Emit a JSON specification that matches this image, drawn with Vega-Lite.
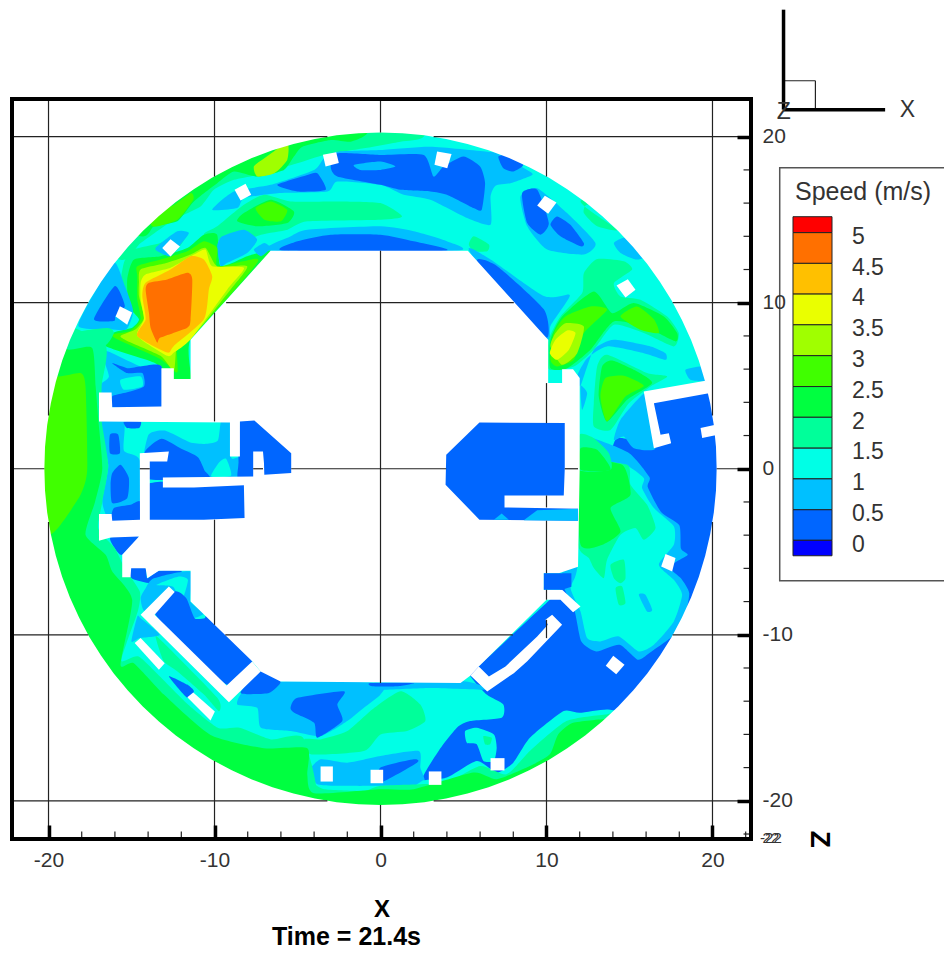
{"$schema":"https://vega.github.io/schema/vega-lite/v6.json","width":739,"height":740,"padding":{"left":12,"top":99,"right":193,"bottom":114},"autosize":"none","background":"white","config":{"font":"Liberation Sans","view":{"stroke":null},"axis":{"grid":false,"domain":false}},
"layer":[
{"data":{"values":[
{"p":0,"s":1.25,"pts":[[-22,-22],[22,-22],[22,22],[-22,22]]},
{"p":1,"s":0.25,"pts":[[14.16,1.74],[13,-3],[11,-7],[10.2,-7.89],[5.9,-11.9],[5.4,-12.45],[6.4,-13.6],[7.4,-14.2],[7.3,-15],[5.4,-15.2],[4.6,-15.6],[3.5,-17],[2.5,-18.8],[4,-19.5],[10,-19.5],[16,-20],[22,-21],[22,5],[19.88,4.65],[16.27,3.95],[16.47,1.34]]},
{"p":2,"s":0.75,"pts":[[14.9,1],[16.2,-0.5],[16.1,-1.1],[16.9,-2.6],[18,-3.4],[18.1,-4.8],[18.5,-5.2],[17.4,-5.9],[18.1,-6.6],[18.6,-7.5],[18.3,-9],[17.7,-10],[16.2,-11.1],[15.5,-11.5],[14.4,-10.6],[13,-11],[12.1,-10.4],[11.7,-8.6],[11,-7],[11,-5.5],[11.5,0],[12,2]]},
{"p":3,"s":1.25,"pts":[[11.8,0.3],[14.66,0.24],[15.86,-0.56],[15.76,-1.17],[16.47,-2.37],[17.67,-3.47],[17.67,-4.58],[16.77,-5.78],[17.67,-6.69],[18.17,-7.59],[17.67,-9.2],[16.47,-10.6],[15.56,-11],[14.36,-10.1],[13.25,-10.4],[12.45,-10.2],[12.05,-8.6],[11.45,-7.2],[11.85,-5.9]]},
{"p":4,"s":1.75,"pts":[[11.9,0.24],[14.86,0.24],[15.06,-0.96],[16.06,-2.17],[16.57,-3.57],[15.86,-4.28],[15.36,-3.57],[14.46,-3.98],[13.65,-5.48],[13.45,-6.59],[12.85,-5.98],[12.55,-5.38],[11.9,-4.58]]},
{"p":5,"s":2.25,"pts":[[11.95,0.24],[14.56,0.24],[15.06,-1.57],[13.86,-2.37],[14.46,-3.78],[13.45,-4.54],[12.05,-4.58]]},
{"p":6,"s":1.75,"pts":[[13.86,-5.78],[14.66,-5.48],[14.76,-6.59],[14.46,-6.89],[14.06,-6.59]]},
{"p":7,"s":1.75,"pts":[[14.16,-7.19],[14.56,-7.09],[14.76,-8.09],[14.36,-8.19]]},
{"p":8,"s":0.75,"pts":[[15.56,-7.59],[15.96,-7.59],[16.37,-8.49],[16.06,-8.6]]},
{"p":9,"s":1.75,"pts":[[11.99,2.04],[12.85,1.84],[13.76,0.94],[13.86,-0.06],[11.95,-0.06]]},
{"p":10,"s":2.25,"pts":[[12.05,1.24],[13.05,1.14],[13.86,-0.06],[12.05,-0.06]]},
{"p":11,"s":0.75,"pts":[[14.06,1.74],[14.46,2.95],[15.86,4.51],[16.17,3.75],[16.57,1.24],[15.26,1.24],[14.66,1.94]]},
{"p":12,"s":1.75,"pts":[[12.85,3.95],[13.05,6.16],[13.65,6.86],[16.06,5.76],[17.27,5.56],[16.27,4.96],[14.96,3.95],[13.86,2.34],[12.85,2.55]]},
{"p":13,"s":2.25,"pts":[[13.15,4.35],[13.35,6.16],[13.96,6.52],[15.46,5.86],[16.37,5.16],[14.86,4.15],[13.65,2.85]]},
{"p":14,"s":2.75,"pts":[[13.25,4.35],[13.55,5.46],[14.66,5.6],[15.86,5],[14.76,4.35],[13.65,2.85]]},
{"p":15,"s":0.75,"pts":[[8.43,16.4],[9.44,16.9],[11.24,15.4],[12.95,13.6],[12.25,12.9],[10.04,13.2],[8.84,14.6]]},
{"p":16,"s":0.25,"pts":[[8.53,16.6],[9.44,16.8],[10.14,14.8],[9.64,14.1],[8.84,14.8]]},
{"p":17,"s":0.25,"pts":[[10.24,14.7],[10.64,15.2],[11.44,14.7],[12.25,13.6],[12.05,13.4],[10.84,14]]},
{"p":18,"s":1.75,"pts":[[12.05,16.1],[14.26,14.4],[13.05,14.6],[12.25,15.4],[12.5,15.9],[14.5,15],[14.5,17]]},
{"p":19,"s":0.75,"pts":[[14.06,13.6],[14.86,13.9],[16.06,12.4],[17,13],[15.46,12.6],[14.46,13]]},
{"p":20,"s":1.75,"pts":[[5.32,13.5],[5.62,14],[6.53,13.5],[6.43,13.1],[5.62,13.1]]},
{"p":21,"s":0.75,"pts":[[5.32,13.2],[6.63,12.6],[9.84,10.4],[11.35,10.5],[11.24,10.1],[10.24,8.6],[10.1,7.77],[8,9]]},
{"p":22,"s":0.25,"pts":[[5.82,12.5],[7.03,12.2],[9.84,9.6],[10.04,7.9],[8,9]]},
{"p":23,"s":1.75,"pts":[[10.14,7.77],[10.84,9.17],[12.15,10.58],[12.25,11.78],[13.05,12.63],[14.66,12.5],[15.16,12],[14.06,11.18],[14.46,10.38],[15.66,10.18],[17.27,9.17],[17.97,8.17],[17.67,7.37],[15.86,8.17],[14.06,8.67],[12.85,7.17],[11.65,6.16],[10.14,6]]},
{"p":24,"s":2.25,"pts":[[10.24,7.77],[10.94,9.17],[12.85,10.68],[13.96,9.37],[15.26,9.98],[17.07,9.17],[17.87,8.17],[17.77,7.67],[16.06,8.47],[14.06,8.87],[12.65,7.17],[11.25,6.06],[10.24,6.06]]},
{"p":25,"s":2.75,"pts":[[10.44,8.17],[11.14,9.17],[12.65,9.77],[13.65,9.57],[12.25,8.17],[11.65,6.56],[10.64,6.16],[10.24,6.56]]},
{"p":26,"s":2.75,"pts":[[14.46,9.17],[15.46,9.77],[16.47,9],[16.77,8.17],[15.66,8.37]]},
{"p":27,"s":3.25,"pts":[[10.54,8.17],[11.14,8.77],[12.25,8.57],[11.85,6.96],[10.94,6.26],[10.24,7.37]]},
{"p":28,"s":3.75,"pts":[[10.54,7.77],[11.24,8.33],[11.75,8.17],[11.35,7.17],[10.64,6.56],[10.2,6.96]]},
{"p":29,"s":0.75,"pts":[[12.85,7.17],[14.06,7.77],[16.27,7.37],[17.17,6.96],[17.17,6.56],[15.86,6.96],[13.65,7.37],[12.45,6.66],[11.85,5.6],[12.05,5]]},
{"p":30,"s":0.75,"pts":[[12.05,5],[12.45,4.55],[12.15,3.55]]},
{"p":31,"s":0.75,"pts":[[18.37,5.96],[19.28,6.16],[20,6],[19.58,5.3],[18.67,5.36]]},
{"p":32,"s":1.75,"pts":[[-15.66,12.59],[-14.45,13.59],[-12.45,15],[-10.84,15.8],[-10.04,16.8],[-8.83,17.4],[-7.43,17.7],[-5.02,18.4],[-3.41,18.9],[-1,19.3],[1.2,19.7],[2.6,20],[3,22],[-12,22],[-20,15]]},
{"p":33,"s":2.25,"pts":[[-14.35,13.99],[-13.65,14.6],[-12.24,14.9],[-11.24,16.1],[-9.84,17.2],[-8.83,17.9],[-7.43,17.6],[-5.82,18],[-5.22,18.8],[-4.7,19.4],[-3,19.8],[-1.8,19.7],[-0.8,20.2],[-0.5,22],[-12,22],[-18,15]]},
{"p":34,"s":2.75,"pts":[[-13.75,14.6],[-12.24,15],[-11.28,16.2],[-11.44,16.6],[-12.65,15.8],[-14,16]]},
{"p":35,"s":3.25,"pts":[[-7.63,18.2],[-7,18.7],[-5.62,19.6],[-5.62,18.6],[-6.4,17.8],[-7.43,17.6]]},
{"p":36,"s":0.75,"pts":[[-10.14,15.6],[-8.83,16.7],[-6.62,17.1],[-4,18],[-3.41,18.7],[-2.6,19.1],[0,19.2],[3,19.4],[6.43,19.1],[7,19],[8.83,18],[9.14,17.7],[7.83,17.2],[6.93,17.05],[6.63,16.4],[6.63,14.7],[5.22,15.1],[3,16.2],[1.4,16.5],[0,17.1],[-2.6,17.3],[-3.2,16.7],[-6.2,16.6],[-8.2,16.3],[-8.63,15.7]]},
{"p":37,"s":0.25,"pts":[[-6.22,17.1],[-4.4,17.7],[-3.8,17.8],[-3.3,16.8],[-5,16.7]]},
{"p":38,"s":0.25,"pts":[[-3,18.2],[-2.6,19],[0,18.9],[2.6,18.9],[3.2,17.6],[3.8,18.2],[5,18.8],[6,18.2],[6.3,17.2],[6.1,15.6],[5.6,15.7],[4,16.5],[3,16.7],[1.2,16.8],[0,17.1],[-2.6,17.6]]},
{"p":39,"s":0.75,"pts":[[-1.6,18.3],[0,18.5],[0.9,18.2],[0,18],[-1.2,18]]},
{"p":40,"s":0.25,"pts":[[7.1,18.8],[7.7,18.9],[8.6,18.3],[8,17.9],[7.4,18.1]]},
{"p":41,"s":1.75,"pts":[[-10.64,14.1],[-9.84,14.6],[-8.23,15.9],[-7,16.5],[-5.42,16.1],[-2.6,16.1],[0,16],[1.3,15.2],[0,15],[-4.4,14.9],[-5.6,14.4],[-7.2,14.1],[-9,13.5]]},
{"p":42,"s":2.25,"pts":[[-8.23,15.4],[-6.62,16.2],[-5.22,15.5],[-5.62,14.8],[-7.43,14.6],[-8.63,14.9]]},
{"p":43,"s":2.75,"pts":[[-7.53,15.7],[-6.62,16.1],[-5.62,15.6],[-6,14.9],[-7,15]]},
{"p":44,"s":0.75,"pts":[[-6.62,13.13],[-5.4,14],[-4.4,14.4],[0,14.6],[2,14.3],[4,13.7],[4.6,13.13]]},
{"p":45,"s":0.25,"pts":[[-5.8,13.13],[-5,13.7],[-3,14.1],[0,14.1],[2,13.7],[3.9,13.13]]},
{"p":46,"s":1.75,"pts":[[-15.46,12.4],[-14.85,13.2],[-13.25,13.6],[-11.64,14.1],[-15.2,9.2],[-15.8,10]]},
{"p":47,"s":2.25,"pts":[[-15.26,11.4],[-14.85,12.6],[-13.25,12.8],[-11.64,13.3],[-10.64,14.1],[-9.84,14.1],[-9.63,12.2],[-8.03,12.8],[-6.62,13.1],[-8.23,11.2],[-11.44,7.8],[-11.44,5.4],[-12.45,5.4],[-13.65,6.4],[-16.56,7.4],[-16.06,8.2],[-14.96,8.5],[-14.55,9],[-15.16,9.8]]},
{"p":48,"s":0.75,"pts":[[-9.54,14],[-8.23,14.4],[-7.43,13.8],[-8.03,13],[-9.23,12.4],[-9.63,12.2],[-9.84,13.4]]},
{"p":49,"s":0.75,"pts":[[-7.63,13.2],[-7,13.6],[-6.62,13.3],[-7.2,12.8]]},
{"p":50,"s":2.75,"pts":[[-14.65,11.6],[-14.65,12.2],[-13.25,12.6],[-11.64,13.1],[-10.64,13.7],[-9.84,13.3],[-9.84,12.2],[-8.23,12.5],[-7.43,12.4],[-11.44,7.8],[-12.25,7.4],[-12.25,5.8],[-13.25,6.6],[-15.86,7.8],[-16.16,8.1],[-15.06,8.3],[-14.45,9],[-14.65,10.2]]},
{"p":51,"s":3.25,"pts":[[-14.55,11.2],[-14.45,12],[-12.85,12.4],[-11.44,12.9],[-10.54,13.3],[-9.84,12.2],[-8.03,12.2],[-9.03,10.8],[-11.44,7.8],[-12.25,7.6],[-12.45,5.9],[-13.25,6.8],[-15.26,7.7],[-15.66,8],[-14.75,8.4],[-14.25,9.1],[-14.55,10.4]]},
{"p":52,"s":3.75,"pts":[[-14.45,11.2],[-14.15,11.7],[-12.65,12.1],[-11.24,12.9],[-10.54,13.2],[-10.14,12.2],[-8.23,12.1],[-9.23,10.8],[-11.44,7.8],[-12.45,7],[-12.85,6.8],[-14.65,8],[-14.25,9],[-14.45,10.2]]},
{"p":53,"s":4.25,"pts":[[-14.15,11.2],[-12.65,12],[-11.44,12.8],[-10.64,12.6],[-10.14,11.6],[-10.34,10.8],[-10.64,9],[-12.45,7.4],[-12.85,7],[-14.65,8],[-14.15,9],[-14.35,10.4]]},
{"p":54,"s":4.75,"pts":[[-14.15,10.8],[-13.95,11.2],[-12.85,11.4],[-11.64,11.8],[-11.34,11.4],[-11.44,9],[-11.64,8.5],[-13.25,7.9],[-13.45,7.6],[-13.85,8.5],[-13.95,9.4]]},
{"p":55,"s":0.75,"pts":[[-13.55,13.3],[-12.25,14.3],[-11.54,14.2],[-12.05,13.5],[-12.65,12.8],[-13.25,13]]},
{"p":56,"s":0.75,"pts":[[-18.2,8.6],[-17,11],[-16,12.4],[-15.4,11],[-14.9,9.5],[-15.3,8.4],[-16.3,8.4]]},
{"p":57,"s":0.25,"pts":[[-17.26,9],[-16,11],[-15.4,9.8],[-15.96,9.2],[-16.06,8.9]]},
{"p":58,"s":1.75,"pts":[[-18.87,7.2],[-18.47,8.17],[-16.46,8.47],[-16.06,8.17],[-16.66,7.37]]},
{"p":59,"s":0.75,"pts":[[-16.76,7.16],[-14.45,6.16],[-13.2,6.16],[-13.2,3.7],[-16.16,3.7],[-16.96,4.96],[-16.36,5.56]]},
{"p":60,"s":0.25,"pts":[[-16.16,6.36],[-15.26,6.06],[-14.45,6.16],[-13.2,6.16],[-13.2,3.7],[-16.16,3.7],[-16.16,4.36],[-15.46,4.56],[-14.25,4.96],[-14.35,5.76],[-15.26,5.76]]},
{"p":61,"s":1.25,"pts":[[-15.66,5.36],[-14.45,5.56],[-14.35,4.96],[-15.46,4.76]]},
{"p":62,"s":0.75,"pts":[[-16.96,2.85],[-15.46,2.85],[-15.46,1.1],[-14.5,0.5],[-14.5,-3.07],[-16.26,-3.17],[-16.76,-1.97],[-16.4,0.24]]},
{"p":63,"s":0.25,"pts":[[-16.16,-0.26],[-15.66,0.24],[-15.16,-0.56],[-15.26,-1.77],[-16.16,-2.07],[-16.26,-0.96]]},
{"p":64,"s":0.25,"pts":[[-16.16,-3.2],[-16.06,-2.37],[-15.06,-2.17],[-14.5,-1.97],[-14.5,-3.2]]},
{"p":65,"s":0.25,"pts":[[-16.3,2.05],[-15.8,2.05],[-15.7,0.94],[-16.3,0.94]]},
{"p":66,"s":0.25,"pts":[[-15.46,2.85],[-14.45,2.85],[-14.55,2.45],[-15.26,2.45]]},
{"p":67,"s":0.75,"pts":[[-14,2],[-13,2.3],[-11.5,1.6],[-10.5,1.5],[-9.8,1.7],[-9.6,2.85],[-9,2.85],[-9,0.7],[-8.47,0.7],[-7.6,0.6],[-7.67,-0.46],[-14,-0.46]]},
{"p":68,"s":0.25,"pts":[[-14.2,1],[-13.2,1.8],[-12,1.2],[-11,0.7],[-10.6,-0.1],[-10.4,-0.6],[-14.2,-0.6]]},
{"p":69,"s":0.25,"pts":[[-8.4,0.8],[-7.6,0.8],[-7.5,-0.6],[-8.6,-0.6]]},
{"p":70,"s":1.25,"pts":[[-10.2,-0.46],[-9.7,0.4],[-9.3,0.6],[-9,-0.4]]},
{"p":71,"s":0.25,"pts":[[-14,-0.9],[-8,-0.9],[-8,-3.2],[-14,-3.2]]},
{"p":72,"s":0.25,"pts":[[-8.47,2.95],[-7.6,2.95],[-5.3,0.9],[-5.3,-0.3],[-7,-0.46],[-8.47,-0.46]]},
{"p":73,"s":0.25,"pts":[[-16.26,-4.14],[-14.55,-4.08],[-15.56,-5.18],[-16,-4.8]]},
{"p":74,"s":0.25,"pts":[[-15.06,-6],[-14.15,-6],[-14.05,-6.6],[-13.35,-6.15],[-12,-6.15],[-12.3,-6.5],[-13.8,-6.9],[-15,-6.6]]},
{"p":75,"s":0.75,"pts":[[-14.45,-7.8],[-14.15,-7.2],[-13.65,-6.6],[-11.44,-6.2],[-11.44,-8],[-10.64,-8.7],[-11.44,-9],[-12,-8],[-12.4,-7.43],[-14.15,-8.6]]},
{"p":76,"s":1.25,"pts":[[-13.5,-7],[-12.2,-6.5],[-11.6,-6.7],[-12,-8],[-12.5,-7.1]]},
{"p":77,"s":0.25,"pts":[[-13.55,-8.8],[-12.4,-7.4],[-11.7,-7.8],[-11.2,-9],[-10.6,-9],[-10.3,-8.9],[-7.73,-11.6],[-9.27,-13]]},
{"p":78,"s":0.75,"pts":[[-14.65,-8.9],[-14.45,-9],[-13.3,-10],[-14.5,-10.2],[-15,-10.4]]},
{"p":79,"s":0.75,"pts":[[-8.23,-13.4],[-6.02,-12.81],[0,-12.9],[0,-13.6],[-1,-14.4],[-2,-15.2],[-3.6,-16.1],[-5.4,-15.8],[-7.2,-15.6],[-7.43,-14.4],[-8.63,-14.2]]},
{"p":80,"s":0.25,"pts":[[-8.43,-13.5],[-7.22,-12.2],[-6.02,-12.81],[-6.72,-13.5]]},
{"p":81,"s":0.25,"pts":[[-5.42,-14.4],[-5,-13.8],[-2.2,-13.4],[-2.6,-14.2],[-2.3,-15.2],[-3.8,-16.2],[-4,-15.3],[-5.2,-14.7]]},
{"p":82,"s":0.75,"pts":[[0,-12.9],[5,-12.8],[6.5,-13.3],[3,-13.2],[0,-13.3]]},
{"p":83,"s":0.25,"pts":[[-0.6,-12.9],[2,-12.9],[1,-13.1],[-0.5,-13.1]]},
{"p":84,"s":1.25,"pts":[[5.1,-15.8],[5.8,-15.6],[6.83,-16],[7,-16.8],[6.83,-17.6],[6.2,-17.6],[5.8,-16.6],[5.2,-16.5]]},
{"p":85,"s":1.75,"pts":[[6.2,-16.1],[6.7,-16.2],[6.6,-16.6],[6.3,-16.6]]},
{"p":86,"s":1.75,"pts":[[-4.6,-16.3],[-3.6,-16.3],[-2,-15.8],[-0.5,-14.5],[1.2,-13.4],[2.4,-14.2],[2.7,-15.2],[1.6,-15.8],[0,-16],[-1,-17],[-4.2,-17.2]]},
{"p":87,"s":0.75,"pts":[[-4.3,-18.2],[-3.6,-17.5],[-2,-17.7],[0,-17.3],[2.3,-17],[2.4,-18],[2.6,-19],[0,-19.1],[-2.4,-19.1],[-3.8,-19]]},
{"p":88,"s":0.25,"pts":[[0,-18],[2,-17.5],[2.2,-17.7],[0,-18.9]]},
{"p":89,"s":1.25,"pts":[[2.5,-18.8],[4,-18.6],[5.8,-17.6],[7,-18.3],[8,-17.7],[9,-16.2],[11,-14.6],[12,-14.7],[13.7,-14.5],[15,-15],[15,-18],[2.5,-19.5]]},
{"p":90,"s":1.75,"pts":[[-4.3,-19],[-3.4,-19.3],[-1,-19.4],[0,-19.1],[2.4,-19],[4,-18.9],[6,-17.9],[7.6,-18.4],[9,-17],[11.2,-15.2],[13.6,-14.8],[14.2,-14.9],[15,-18],[0,-22],[-5,-22]]},
{"p":91,"s":1.75,"pts":[[-22,7.6],[-16.7,7.6],[-16.8,5],[-16.8,2.9],[-16.4,0.2],[-16.76,-2],[-17,-3.6],[-16,-4.8],[-15.4,-6],[-14.5,-7.4],[-14.6,-8.5],[-15.3,-10.5],[-15.6,-11.6],[-14.6,-11.3],[-13.3,-12.5],[-11.6,-14.2],[-9.8,-15.6],[-8.5,-15.6],[-6.6,-16.3],[-4.6,-16.3],[-4.6,-22],[-22,-22]]},
{"p":92,"s":1.75,"pts":[[-13.55,-10.1],[-12.95,-10.6],[-9.83,-13.8],[-9.73,-14.6],[-10.64,-13.6],[-12.25,-12.2],[-13.05,-11.6]]},
{"p":93,"s":0.25,"pts":[[-12.75,-12.5],[-11.64,-13],[-11.24,-13.4],[-11.64,-13.8]]},
{"p":94,"s":2.25,"pts":[[-22,7.2],[-18.77,7.17],[-17.37,7.27],[-17.16,4.96],[-17,2.95],[-16.76,0],[-17.2,-2],[-17.77,-3.98],[-16.56,-5.18],[-16.16,-6.19],[-14.96,-7.89],[-15.66,-11.81],[-14.86,-11.71],[-13.05,-13.6],[-10.24,-16.03],[-7.02,-16.83],[-4.41,-16.83],[-4.41,-18.43],[-4,-19.54],[0,-19.3],[2,-19.3],[5.6,-18.3],[7,-18.7],[9,-17.9],[10.2,-17.2],[10.7,-16],[11.6,-15.3],[13.65,-15.05],[14.5,-15],[15,-20],[0,-22],[-22,-22]]},
{"p":95,"s":2.75,"pts":[[-19.37,5.56],[-18.07,5.76],[-17.77,4.96],[-17.67,-0.06],[-18.07,-1.57],[-19.27,-3.37],[-20,-4],[-22,-4],[-22,5.6]]}
]},
"transform":[{"flatten":["pts"]},{"window":[{"op":"row_number","as":"i"}]}],
"mark":{"type":"line","interpolate":"cardinal-closed","tension":0.4,"stroke":null,"clip":true},
"encoding":{
"x":{"field":"pts[0]","type":"quantitative","scale":{"domain":[-22.2,22.32]},"title":"X","axis":{"orient":"bottom","values":[-20,-10,0,10,20],"labelExpr":"''+datum.value","zindex":1,"tickColor":"#000","tickWidth":3.5,"tickSize":-14,"labelFontSize":21,"labelColor":"#333","labelPadding":24,"titleFontSize":24,"titleFontWeight":"bold","titleColor":"#000","titlePadding":27}},
"y":{"field":"pts[1]","type":"quantitative","scale":{"domain":[-22.3,22.27]},"title":null,"axis":{"orient":"right","values":[-20,-10,0,10,20],"labelExpr":"''+datum.value","zindex":1,"tickColor":"#000","tickWidth":3.5,"tickSize":-14,"labelFontSize":21,"labelColor":"#333","labelPadding":25}},
"detail":{"field":"p"},
"order":{"field":"i","type":"quantitative"},
"fill":{"field":"s","type":"quantitative","legend":null,"scale":{"type":"threshold","domain":[0,0.5,1,1.5,2,2.5,3,3.5,4,4.5,5],"range":["#0000ff","#0066ff","#00c0ff","#00ffe6","#00ff9a","#00ff40","#40ff00","#a0ff00","#eaff00","#ffc000","#ff7000","#ff0000"]}}
}},
{"data":{"values":[
{"p":100,"n":"mask","pts":[[-22.2,22.27],[22.32,22.27],[22.32,-22.3],[-22.2,-22.3],[-22.2,0],[-20.25,0],[-20.21,-1.32],[-20.08,-2.64],[-19.86,-3.95],[-19.56,-5.24],[-19.18,-6.51],[-18.71,-7.75],[-18.16,-8.96],[-17.54,-10.13],[-16.84,-11.25],[-16.07,-12.33],[-15.22,-13.35],[-14.32,-14.32],[-13.35,-15.22],[-12.33,-16.07],[-11.25,-16.84],[-10.13,-17.54],[-8.96,-18.16],[-7.75,-18.71],[-6.51,-19.18],[-5.24,-19.56],[-3.95,-19.86],[-2.64,-20.08],[-1.32,-20.21],[0,-20.25],[1.32,-20.21],[2.64,-20.08],[3.95,-19.86],[5.24,-19.56],[6.51,-19.18],[7.75,-18.71],[8.96,-18.16],[10.13,-17.54],[11.25,-16.84],[12.33,-16.07],[13.35,-15.22],[14.32,-14.32],[15.22,-13.35],[16.07,-12.33],[16.84,-11.25],[17.54,-10.13],[18.16,-8.96],[18.71,-7.75],[19.18,-6.51],[19.56,-5.24],[19.86,-3.95],[20.08,-2.64],[20.21,-1.32],[20.25,0],[20.21,1.32],[20.08,2.64],[19.86,3.95],[19.56,5.24],[19.18,6.51],[18.71,7.75],[18.16,8.96],[17.54,10.13],[16.84,11.25],[16.07,12.33],[15.22,13.35],[14.32,14.32],[13.35,15.22],[12.33,16.07],[11.25,16.84],[10.13,17.54],[8.96,18.16],[7.75,18.71],[6.51,19.18],[5.24,19.56],[3.95,19.86],[2.64,20.08],[1.32,20.21],[0,20.25],[-1.32,20.21],[-2.64,20.08],[-3.95,19.86],[-5.24,19.56],[-6.51,19.18],[-7.75,18.71],[-8.96,18.16],[-10.13,17.54],[-11.25,16.84],[-12.33,16.07],[-13.35,15.22],[-14.32,14.32],[-15.22,13.35],[-16.07,12.33],[-16.84,11.25],[-17.54,10.13],[-18.16,8.96],[-18.71,7.75],[-19.18,6.51],[-19.56,5.24],[-19.86,3.95],[-20.08,2.64],[-20.21,1.32],[-20.25,0],[-22.2,0]]},
{"p":101,"n":"void","pts":[[-6.62,13.13],[5.26,13.13],[10.1,7.77],[10.1,5.16],[10.94,5.16],[10.94,6],[11.6,6],[12,5.46],[12,0],[11.9,-5.9],[10.74,-6.3],[9.84,-6.29],[9.84,-7.29],[10.94,-7.29],[12.05,-8.3],[11.6,-8.64],[10.84,-7.89],[10,-7.89],[5.92,-11.91],[5.42,-12.45],[4.82,-12.91],[-6.02,-12.81],[-7.22,-12.21],[-7.73,-11.6],[-11.44,-8],[-11.44,-6.15],[-13.35,-6.15],[-14.05,-6.59],[-14.15,-6],[-15.02,-6],[-15.06,-6.53],[-15.56,-6.53],[-15.56,-5.18],[-14.55,-4.08],[-16.26,-4.14],[-16.96,-4.34],[-16.96,-2.73],[-16.2,-2.73],[-16.16,-3.13],[-14.49,-3.07],[-14.5,0.94],[-12.75,1.04],[-12.85,0.44],[-13.9,0.44],[-13.9,-3.07],[-10.64,-3.07],[-8.19,-2.97],[-8.23,-1],[-11.24,-1.13],[-13.11,-1.13],[-13.11,-0.52],[-7.67,-0.46],[-7.67,1.04],[-7.08,1.04],[-7.02,0.34],[-7,-0.36],[-5.38,-0.26],[-5.38,0.94],[-7.6,2.91],[-8.47,2.85],[-8.47,0.74],[-9.07,0.74],[-9.07,2.79],[-16.96,2.85],[-16.96,4.6],[-16.2,4.6],[-16.16,3.71],[-13.2,3.75],[-13.2,6.06],[-12.45,6.06],[-12.45,5.4],[-11.44,5.4],[-11.44,7.77]]},
{"p":102,"n":"pillar","pts":[[-13.15,13.29],[-12.65,13.83],[-12.08,13.39],[-12.65,12.79]]},
{"p":103,"n":"pillar","pts":[[-15.96,9.17],[-15.7,9.78],[-14.96,9.41],[-15.26,8.67]]},
{"p":104,"n":"pillar","pts":[[-8.79,16.8],[-8.13,17.16],[-7.79,16.5],[-8.43,16.16]]},
{"p":105,"n":"pillar","pts":[[-3.47,18.91],[-2.67,19.07],[-2.51,18.41],[-3.31,18.21]]},
{"p":106,"n":"pillar","pts":[[3.41,19.11],[4.28,18.95],[4.02,18.1],[3.25,18.31]]},
{"p":107,"n":"pillar","pts":[[9.44,15.86],[9.9,16.44],[10.6,16.04],[10.1,15.36]]},
{"p":108,"n":"pillar","pts":[[14.22,11.04],[14.9,11.42],[15.36,10.78],[14.76,10.32]]},
{"p":109,"n":"pillar","pts":[[19.28,2.45],[20.18,2.65],[20.32,2.05],[19.38,1.85]]},
{"p":110,"n":"pillar","pts":[[17.17,-5.14],[17.77,-5.38],[17.57,-6.19],[16.91,-5.88]]},
{"p":111,"n":"pillar","pts":[[14.02,-11.27],[14.7,-11.81],[14.2,-12.37],[13.57,-11.87]]},
{"p":112,"n":"pillar","pts":[[6.63,-17.43],[7.47,-17.43],[7.47,-18.17],[6.63,-18.17]]},
{"p":113,"n":"pillar","pts":[[2.91,-18.23],[3.67,-18.23],[3.67,-19.04],[2.91,-19.04]]},
{"p":114,"n":"pillar","pts":[[-0.6,-18.13],[0.16,-18.13],[0.16,-18.94],[-0.6,-18.94]]},
{"p":115,"n":"pillar","pts":[[-3.61,-17.93],[-2.87,-17.93],[-2.87,-18.84],[-3.61,-18.84]]},
{"p":116,"n":"wall","pts":[[-14.81,-10.5],[-14.45,-10.2],[-13,-11.71],[-13.35,-12.11]]},
{"p":117,"n":"wall","pts":[[-11.64,-13.76],[-11.28,-13.47],[-9.98,-14.62],[-10.24,-15.16]]},
{"p":118,"n":"wall","pts":[[-14.45,-8.8],[-12.75,-7.09],[-12.4,-7.43],[-13.61,-8.8],[-9.27,-13.05],[-7.73,-11.61],[-7.22,-12.21],[-9.13,-14.06]]},
{"p":119,"n":"wall","pts":[[5.42,-12.45],[5.92,-11.91],[6.53,-12.51],[7.53,-11.91],[9.44,-10.1],[10.08,-9.4],[9.94,-9.1],[10.34,-8.8],[10.94,-9.4],[8.84,-11.6],[8.03,-12.31],[6.43,-13.41]]},
{"p":120,"n":"wall","pts":[[15.86,4.65],[19.58,5.3],[19.78,4.55],[16.47,3.95],[16.87,2.05],[17.37,2.14],[17.51,1.54],[16.47,1.24]]}
]},
"transform":[{"flatten":["pts"]},{"window":[{"op":"row_number","as":"i"}]}],
"mark":{"type":"line","fill":"white","stroke":null},
"encoding":{"x":{"field":"pts[0]","type":"quantitative","scale":{"domain":[-22.2,22.32]},"title":"X"},"y":{"field":"pts[1]","type":"quantitative","scale":{"domain":[-22.3,22.27]},"title":null,"axis":{"orient":"right"}},"detail":{"field":"p"},"order":{"field":"i","type":"quantitative"}}},
{"data":{"values":[
{"p":200,"s":0.25,"pts":[[5.96,2.79],[11.1,2.75],[11.1,0],[11.04,-1.61],[7.47,-1.61],[7.47,-2.33],[11.9,-2.41],[11.9,-3.13],[5.96,-3.07],[3.92,-0.96],[3.96,0.84]]},
{"p":201,"s":0.75,"pts":[[8.63,-3.1],[9.44,-2.5],[11.9,-2.41],[11.9,-3.13]]},
{"p":202,"s":0.75,"pts":[[6.83,-3.07],[7.3,-2.7],[7.73,-3.07]]},
{"p":203,"s":0.25,"pts":[[9.84,-6.29],[11.5,-6.3],[11.5,-7.1],[10.94,-7.29],[9.84,-7.29]]}
]},
"transform":[{"flatten":["pts"]},{"window":[{"op":"row_number","as":"i"}]}],
"mark":{"type":"line","stroke":null},
"encoding":{"x":{"field":"pts[0]","type":"quantitative","scale":{"domain":[-22.2,22.32]},"title":"X"},"y":{"field":"pts[1]","type":"quantitative","scale":{"domain":[-22.3,22.27]},"title":null,"axis":{"orient":"right"}},"detail":{"field":"p"},"order":{"field":"i","type":"quantitative"},"fill":{"field":"s","type":"quantitative","legend":null,"scale":{"type":"threshold","domain":[0,0.5,1,1.5,2,2.5,3,3.5,4,4.5,5],"range":["#0000ff","#0066ff","#00c0ff","#00ffe6","#00ff9a","#00ff40","#40ff00","#a0ff00","#eaff00","#ffc000","#ff7000","#ff0000"]}}}},
{"data":{"values":[
{"x":-20,"x2":-20,"y":3.2,"y2":22.27},{"x":-20,"x2":-20,"y":-3.2,"y2":-22.3},{"x":20,"x2":20,"y":3.2,"y2":22.27},{"x":20,"x2":20,"y":-3.2,"y2":-22.3},
{"x":-10,"x2":-10,"y":17.6,"y2":22.27},{"x":-10,"x2":-10,"y":-17.6,"y2":-22.3},{"x":-10,"x2":-10,"y":2.85,"y2":9.4},{"x":-10,"x2":-10,"y":-9.4,"y2":-3.07},
{"x":0,"x2":0,"y":20.25,"y2":22.27},{"x":0,"x2":0,"y":-20.25,"y2":-22.3},{"x":0,"x2":0,"y":-12.9,"y2":13.13},
{"x":10,"x2":10,"y":17.6,"y2":22.27},{"x":10,"x2":10,"y":-17.6,"y2":-22.3},{"x":10,"x2":10,"y":2.75,"y2":5.16},{"x":10,"x2":10,"y":-6.29,"y2":-3.13},{"x":10,"x2":10,"y":-7.89,"y2":-7.29},{"x":10,"x2":10,"y":-2.33,"y2":-1.61},{"x":10,"x2":10,"y":-10.2,"y2":-9.1},
{"y":20,"y2":20,"x":3.2,"x2":22.32},{"y":20,"y2":20,"x":-3.2,"x2":-22.2},{"y":-20,"y2":-20,"x":3.2,"x2":22.32},{"y":-20,"y2":-20,"x":-3.2,"x2":-22.2},
{"y":10,"y2":10,"x":17.6,"x2":22.32},{"y":10,"y2":10,"x":-17.6,"x2":-22.2},{"y":10,"y2":10,"x":-9.3,"x2":8.03},
{"y":-10,"y2":-10,"x":17.6,"x2":22.32},{"y":-10,"y2":-10,"x":-17.6,"x2":-22.2},{"y":-10,"y2":-10,"x":-9.35,"x2":7.97},
{"y":0,"y2":0,"x":20.25,"x2":22.32},{"y":0,"y2":0,"x":-20.25,"x2":-22.2},{"y":0,"y2":0,"x":-5.38,"x2":3.96},{"y":0,"y2":0,"x":-7.67,"x2":-7.08},{"y":0,"y2":0,"x":-14.5,"x2":-13.9},{"y":0,"y2":0,"x":11.1,"x2":11.9},
{"x":24.28,"x2":26.2,"y":23.37,"y2":23.37},{"x":26.2,"x2":26.2,"y":21.63,"y2":23.37},
{"x":-18,"x2":-18,"y":-22.3,"y2":-21.85},{"x":-16,"x2":-16,"y":-22.3,"y2":-21.85},{"x":-14,"x2":-14,"y":-22.3,"y2":-21.85},{"x":-12,"x2":-12,"y":-22.3,"y2":-21.85},{"x":-8,"x2":-8,"y":-22.3,"y2":-21.85},{"x":-6,"x2":-6,"y":-22.3,"y2":-21.85},{"x":-4,"x2":-4,"y":-22.3,"y2":-21.85},{"x":-2,"x2":-2,"y":-22.3,"y2":-21.85},{"x":2,"x2":2,"y":-22.3,"y2":-21.85},{"x":4,"x2":4,"y":-22.3,"y2":-21.85},{"x":6,"x2":6,"y":-22.3,"y2":-21.85},{"x":8,"x2":8,"y":-22.3,"y2":-21.85},{"x":12,"x2":12,"y":-22.3,"y2":-21.85},{"x":14,"x2":14,"y":-22.3,"y2":-21.85},{"x":16,"x2":16,"y":-22.3,"y2":-21.85},{"x":18,"x2":18,"y":-22.3,"y2":-21.85},{"x":22,"x2":22,"y":-22.3,"y2":-21.85},
{"y":-18,"y2":-18,"x":22.32,"x2":21.87},{"y":-16,"y2":-16,"x":22.32,"x2":21.87},{"y":-14,"y2":-14,"x":22.32,"x2":21.87},{"y":-12,"y2":-12,"x":22.32,"x2":21.87},{"y":-8,"y2":-8,"x":22.32,"x2":21.87},{"y":-6,"y2":-6,"x":22.32,"x2":21.87},{"y":-4,"y2":-4,"x":22.32,"x2":21.87},{"y":-2,"y2":-2,"x":22.32,"x2":21.87},{"y":2,"y2":2,"x":22.32,"x2":21.87},{"y":4,"y2":4,"x":22.32,"x2":21.87},{"y":6,"y2":6,"x":22.32,"x2":21.87},{"y":8,"y2":8,"x":22.32,"x2":21.87},{"y":12,"y2":12,"x":22.32,"x2":21.87},{"y":14,"y2":14,"x":22.32,"x2":21.87},{"y":16,"y2":16,"x":22.32,"x2":21.87},{"y":18,"y2":18,"x":22.32,"x2":21.87},{"y":-22,"y2":-22,"x":22.32,"x2":21.87}
]},
"mark":{"type":"rule","color":"#222","strokeWidth":1.2},
"encoding":{"x":{"field":"x","type":"quantitative","scale":{"domain":[-22.2,22.32]},"title":"X"},"x2":{"field":"x2"},"y":{"field":"y","type":"quantitative","scale":{"domain":[-22.3,22.27]},"title":null,"axis":{"orient":"right"}},"y2":{"field":"y2"}}},
{"data":{"values":[{"x":24.28,"x2":24.28,"y":21.63,"y2":27.65},{"x":24.28,"x2":30.4,"y":21.63,"y2":21.63}]},
"mark":{"type":"rule","color":"#000","strokeWidth":3.5},
"encoding":{"x":{"field":"x","type":"quantitative","scale":{"domain":[-22.2,22.32]},"title":"X"},"x2":{"field":"x2"},"y":{"field":"y","type":"quantitative","scale":{"domain":[-22.3,22.27]},"title":null,"axis":{"orient":"right"}},"y2":{"field":"y2"}}},
{"data":{"values":[{"x":-22.2,"x2":22.32,"y":-22.3,"y2":22.27}]},
"mark":{"type":"rect","fill":null,"stroke":"#000","strokeWidth":4},
"encoding":{"x":{"field":"x","type":"quantitative","scale":{"domain":[-22.2,22.32]},"title":"X"},"x2":{"field":"x2"},"y":{"field":"y","type":"quantitative","scale":{"domain":[-22.3,22.27]},"title":null,"axis":{"orient":"right"}},"y2":{"field":"y2"}}},
{"data":{"values":[{"x":24.05,"x2":34.5,"y":18.13,"y2":-6.75}]},
"mark":{"type":"rect","fill":null,"stroke":"#555","strokeWidth":1.5},
"encoding":{"x":{"field":"x","type":"quantitative","scale":{"domain":[-22.2,22.32]},"title":"X"},"x2":{"field":"x2"},"y":{"field":"y","type":"quantitative","scale":{"domain":[-22.3,22.27]},"title":null,"axis":{"orient":"right"}},"y2":{"field":"y2"}}},
{"data":{"values":[
{"s":5.25,"x":24.85,"x2":27.2,"lo":14.22,"hi":15.18},{"s":4.75,"x":24.85,"x2":27.2,"lo":12.37,"hi":14.22},{"s":4.25,"x":24.85,"x2":27.2,"lo":10.52,"hi":12.37},{"s":3.75,"x":24.85,"x2":27.2,"lo":8.67,"hi":10.52},{"s":3.25,"x":24.85,"x2":27.2,"lo":6.81,"hi":8.67},{"s":2.75,"x":24.85,"x2":27.2,"lo":4.95,"hi":6.81},{"s":2.25,"x":24.85,"x2":27.2,"lo":3.1,"hi":4.95},{"s":1.75,"x":24.85,"x2":27.2,"lo":1.24,"hi":3.1},{"s":1.25,"x":24.85,"x2":27.2,"lo":-0.61,"hi":1.24},{"s":0.75,"x":24.85,"x2":27.2,"lo":-2.47,"hi":-0.61},{"s":0.25,"x":24.85,"x2":27.2,"lo":-4.31,"hi":-2.47},{"s":-0.25,"x":24.85,"x2":27.2,"lo":-5.24,"hi":-4.31}]},
"mark":{"type":"rect","stroke":"#222","strokeWidth":1},
"encoding":{"x":{"field":"x","type":"quantitative","scale":{"domain":[-22.2,22.32]},"title":"X"},"x2":{"field":"x2"},"y":{"field":"lo","type":"quantitative","scale":{"domain":[-22.3,22.27]},"title":null,"axis":{"orient":"right"}},"y2":{"field":"hi"},"fill":{"field":"s","type":"quantitative","legend":null,"scale":{"type":"threshold","domain":[0,0.5,1,1.5,2,2.5,3,3.5,4,4.5,5],"range":["#0000ff","#0066ff","#00c0ff","#00ffe6","#00ff9a","#00ff40","#40ff00","#a0ff00","#eaff00","#ffc000","#ff7000","#ff0000"]}}}},
{"data":{"values":[{"x":28.4,"y":13.98,"t":"5"},{"x":28.4,"y":12.12,"t":"4.5"},{"x":28.4,"y":10.27,"t":"4"},{"x":28.4,"y":8.41,"t":"3.5"},{"x":28.4,"y":6.55,"t":"3"},{"x":28.4,"y":4.7,"t":"2.5"},{"x":28.4,"y":2.84,"t":"2"},{"x":28.4,"y":0.99,"t":"1.5"},{"x":28.4,"y":-0.87,"t":"1"},{"x":28.4,"y":-2.73,"t":"0.5"},{"x":28.4,"y":-4.58,"t":"0"}]},
"mark":{"type":"text","fontSize":23,"color":"#333","align":"left","baseline":"middle"},
"encoding":{"x":{"field":"x","type":"quantitative","scale":{"domain":[-22.2,22.32]},"title":"X"},"y":{"field":"y","type":"quantitative","scale":{"domain":[-22.3,22.27]},"title":null,"axis":{"orient":"right"}},"text":{"field":"t"}}},
{"data":{"values":[{"x":24.97,"y":16.69,"t":"Speed (m/s)"}]},
"mark":{"type":"text","fontSize":25,"color":"#333","align":"left","baseline":"middle"},
"encoding":{"x":{"field":"x","type":"quantitative","scale":{"domain":[-22.2,22.32]},"title":"X"},"y":{"field":"y","type":"quantitative","scale":{"domain":[-22.3,22.27]},"title":null,"axis":{"orient":"right"}},"text":{"field":"t"}}},
{"data":{"values":[{"x":23.52,"y":-22.23,"t":"22"},{"x":23.52,"y":-22.23,"t":"-22"}]},
"mark":{"type":"text","fontSize":15,"color":"#333","align":"center","baseline":"middle"},
"encoding":{"x":{"field":"x","type":"quantitative","scale":{"domain":[-22.2,22.32]},"title":"X"},"y":{"field":"y","type":"quantitative","scale":{"domain":[-22.3,22.27]},"title":null,"axis":{"orient":"right"}},"text":{"field":"t"}}},
{"data":{"values":[{"x":24.3,"y":21.5,"t":"Z"},{"x":31.75,"y":21.63,"t":"X"}]},
"mark":{"type":"text","fontSize":23,"color":"#333","align":"center","baseline":"middle"},
"encoding":{"x":{"field":"x","type":"quantitative","scale":{"domain":[-22.2,22.32]},"title":"X"},"y":{"field":"y","type":"quantitative","scale":{"domain":[-22.3,22.27]},"title":null,"axis":{"orient":"right"}},"text":{"field":"t"}}},
{"data":{"values":[{"x":-2.05,"y":-28.19,"t":"Time = 21.4s"}]},
"mark":{"type":"text","fontSize":25,"fontWeight":"bold","color":"#000","align":"center","baseline":"middle"},
"encoding":{"x":{"field":"x","type":"quantitative","scale":{"domain":[-22.2,22.32]},"title":"X"},"y":{"field":"y","type":"quantitative","scale":{"domain":[-22.3,22.27]},"title":null,"axis":{"orient":"right"}},"text":{"field":"t"}}},
{"data":{"values":[{"x":26.39,"y":-22.32,"t":"Z"}]},
"mark":{"type":"text","fontSize":28,"fontWeight":"bold","color":"#000","angle":90,"align":"center","baseline":"middle"},
"encoding":{"x":{"field":"x","type":"quantitative","scale":{"domain":[-22.2,22.32]},"title":"X"},"y":{"field":"y","type":"quantitative","scale":{"domain":[-22.3,22.27]},"title":null,"axis":{"orient":"right"}},"text":{"field":"t"}}}
]}
